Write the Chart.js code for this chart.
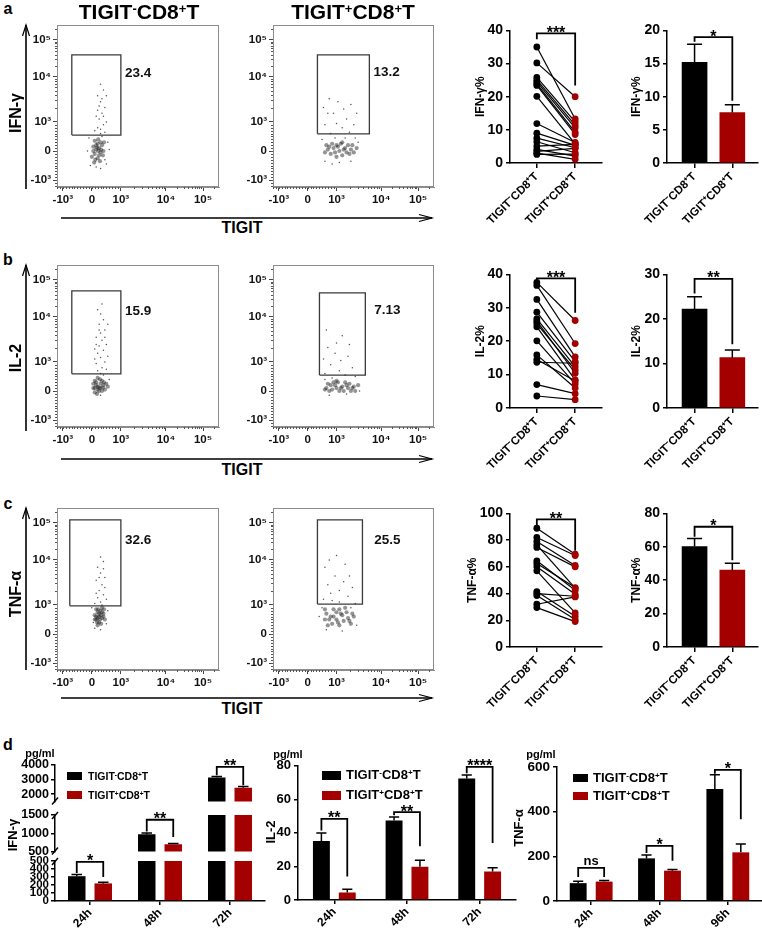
<!DOCTYPE html>
<html>
<head>
<meta charset="utf-8">
<script src="https://cdn.jsdelivr.net/npm/chart.js@4.4.0/dist/chart.umd.min.js"></script>
<style>
  body { margin: 0; width: 762px; height: 932px; position: relative; overflow: hidden; background: #fff;
         font-family: 'Liberation Sans', Arial, sans-serif; font-weight: bold; color: #000; }
  canvas { position: absolute; }
  .t { position: absolute; white-space: nowrap; line-height: 1; transform: translate(-50%, -50%); }
  .l { position: absolute; white-space: nowrap; line-height: 1; transform: translateY(-50%); }
  sup { font-size: 62%; vertical-align: 0; position: relative; top: -0.5em; }
</style>
</head>
<body>
<svg id="arrows" width="762" height="932" style="position:absolute;left:0;top:0"></svg>
<script>
// ---- categories / tick labels ----
const groupLabels = ['TIGIT⁻CD8⁺T', 'TIGIT⁺CD8⁺T'];
const timeLabels = ['24h', '48h', '72h'];
const tnfTimeLabels = ['24h', '48h', '96h'];
const flowTickPos = [-1, 0, 1, 2.55, 3.83];          // biexponential display units
const flowTickLabels = ['-10³', '0', '10³', '10⁴', '10⁵'];

// ---- a-c: paired donors (%) ----
const ifnNeg = [35, 30.2, 25.8, 25.1, 24.5, 23.9, 23.4, 20.1, 11.9, 9, 7.5, 6.4, 5.1, 4.1, 3.5, 3, 2.6];
const ifnPos = [13.3, 20, 12.4, 11.4, 10.6, 9.3, 8.6, 5.8, 6.2, 5.3, 4.6, 3.1, 5.6, 2.1, 4.4, 1.1, 2.7];
const il2Neg = [37.6, 36.7, 32.5, 28.7, 26.7, 26, 25.2, 24.3, 20.1, 15.9, 14.5, 13.7, 7, 3.6];
const il2Pos = [26.2, 19.3, 15.3, 13.9, 12.4, 10.4, 11.4, 8.4, 7.2, 6, 8.1, 13.4, 4.3, 2.5];
const tnfNeg = [88.9, 82, 79, 76.5, 74.5, 64.5, 62.5, 60, 57, 41.5, 40, 38.5, 32, 29.5];
const tnfPos = [69.5, 68.5, 61, 44, 60, 42.5, 44.5, 39.5, 25.5, 23, 38, 20.5, 37.5, 19];

// ---- a-c: mean and SEM ----
const ifnMean = [15.2, 7.6], ifnSem = [2.7, 1.2];
const il2Mean = [22.2, 11.3], il2Sem = [2.8, 1.7];
const tnfMean = [60.2, 46], tnfSem = [4.8, 4.2];

// significance brackets: [top, left leg end, right leg end, label]
const pairedBr = [[39.1, 37.3, 23.4, '***'], [38.8, 38.1, 28.5, '***'], [95.5, 91, 72, '**']];
const barBr = [[19, 18.3, 9.4, '*'], [29, 25.7, 14.3, '**'], [72, 66, 52, '*']];

// ---- d: secreted cytokines (pg/ml) ----
const dIfnNeg = [310, 970, 3150], dIfnPos = [220, 700, 2450];
const dIfnNegSem = [22, 35, 70], dIfnPosSem = [15, 18, 75];
const dIl2Neg = [35.2, 47.4, 72.5], dIl2Pos = [4.4, 19.8, 17];
const dIl2NegSem = [4.8, 2.1, 2.0], dIl2PosSem = [2.0, 3.9, 2.2];
const dTnfNeg = [80, 191, 502], dTnfPos = [87, 136, 218];
const dTnfNegSem = [9, 15, 64], dTnfPosSem = [5, 5, 37];
const dIfnBr = [[490, 350, 300, '*'], [1370, 1050, 895, '**'], [3870, 3300, 2620, '**']];
const dIl2Br = [[48.4, 41.5, 14, '**'], [52.4, 50.5, 32, '**'], [79.4, 75.5, 34, '****']];
const dTnfBr = [[148, 107, 107, 'ns'], [247, 215, 180, '*'], [588, 570, 366, '*']];
const ifnTopTicks = [2000, 3000, 4000], ifnMidTicks = [500, 1000, 1500], ifnLowTicks = [0, 100, 200, 300, 400, 500];

// ---- flow plots: gates [x1, y1, x2, y2] and gated % ----
const gates = [[-0.69, 0.55, 1.0, 3.31], [0.34, 0.59, 2.14, 3.31], [-0.69, 0.59, 1.0, 3.45],
               [0.41, 0.55, 2.0, 3.38], [-0.76, 0.97, 1.0, 3.93], [0.34, 1.03, 1.9, 3.93]];
const gatePct = ['23.4', '13.2', '15.9', '7.13', '32.6', '25.5'];

// flow events (dense core, sparse events)
const coreA1 = [[0.15,0.05],[0.25,0.1],[0.1,-0.1],[0.3,-0.05],[0.2,0.25],[0.05,0.15],[0.35,0.2],[0.2,-0.25],[0.4,0.0],[0.1,0.35],[0.28,-0.35],[0.0,-0.2],
                [0.22,0.0],[0.18,0.12],[0.3,0.3],[0.12,-0.3],[0.38,-0.15],[0.05,0.0],[0.25,-0.15],[0.32,0.05],[0.15,0.2],[0.42,0.3],[0.08,-0.4],[0.22,0.4]];
const sparseA1 = [[0.3,0.6],[0.2,0.8],[0.4,0.9],[0.25,1.1],[0.35,1.3],[0.15,1.2],[0.45,1.5],[0.3,1.7],[0.2,1.9],[0.4,2.1],[0.3,2.3],[0.5,1.0],[0.1,0.7],[0.45,0.65],[0.35,1.8],[0.25,1.55],[0.4,1.2],[0.3,0.75],[0.2,1.4],[0.5,1.9],[-0.05,-0.5],[0.5,-0.45],[0.55,0.3],[-0.1,0.45],[0.3,-0.6],[0.45,-0.3],[0.6,0.05],[-0.15,0.0],[0.15,-0.55],[0.35,0.5]];
const coreA2 = [[0.7,0.05],[0.9,0.1],[1.1,0.0],[1.3,0.1],[1.5,0.05],[0.8,-0.1],[1.2,-0.15],[1.0,0.2],[1.4,0.2],[1.6,-0.05],[0.65,0.2],[1.15,0.25],
                [0.75,0.15],[0.95,-0.05],[1.05,0.15],[1.25,0.05],[1.35,-0.05],[1.55,0.2],[0.85,0.25],[1.45,-0.1],[0.6,-0.05],[1.7,0.1],[1.0,-0.2],[1.2,0.3]];
const sparseA2 = [[0.6,0.9],[0.9,1.3],[1.2,0.8],[1.5,1.6],[0.75,1.8],[1.35,1.1],[1.05,1.7],[0.8,0.6],[1.6,0.9],[1.25,1.45],[0.7,1.3],[1.45,0.65],[1.0,0.95],[0.55,1.5],[1.7,1.3],[0.95,0.45],[1.3,0.45],[0.6,-0.35],[1.1,-0.4],[1.5,-0.35],[1.75,0.3],[0.5,0.4],[0.85,-0.45],[1.65,0.45]];
const coreB1 = [[0.1,0.1],[0.2,0.15],[0.3,0.1],[0.15,0.3],[0.4,0.2],[0.25,0.0],[0.45,0.05],[0.05,0.25],[0.35,0.35],[0.55,0.15],[0.2,0.45],[0.1,-0.05],
                [0.2,0.05],[0.15,0.2],[0.3,0.25],[0.25,0.12],[0.35,0.0],[0.05,0.1],[0.42,0.3],[0.5,0.25],[0.1,0.35],[0.28,0.4],[0.18,-0.1],[0.38,0.12]];
const sparseB1 = [[0.2,0.7],[0.35,0.8],[0.15,0.95],[0.45,1.0],[0.3,1.15],[0.2,1.3],[0.4,1.4],[0.25,1.55],[0.5,1.6],[0.35,1.75],[0.15,1.85],[0.3,2.0],[0.45,2.1],[0.25,2.3],[0.4,2.45],[0.3,2.65],[0.2,2.8],[0.35,3.0],[0.55,1.2],[0.1,1.1],[0.5,0.75],[0.3,0.6],[0.15,1.6],[0.45,1.85],[0.25,2.1],[0.55,2.3],[0.4,0.55],[0.1,1.45],[0.6,0.4],[0.3,-0.15]];
const coreB2 = [[0.65,0.1],[0.8,0.2],[1.0,0.1],[1.2,0.15],[1.4,0.1],[1.6,0.15],[0.75,0.0],[0.9,0.3],[1.1,0.0],[1.3,0.3],[1.5,0.0],[1.75,0.2],
                [0.7,0.25],[0.85,0.05],[0.95,0.2],[1.05,0.3],[1.15,0.1],[1.25,0.0],[1.35,0.2],[1.45,0.25],[1.55,0.1],[1.65,0.0],[0.6,0.05],[1.0,0.35]];
const sparseB2 = [[0.6,0.6],[0.8,0.9],[1.1,0.7],[1.4,1.2],[0.7,1.5],[1.2,1.9],[0.95,1.3],[1.55,0.8],[0.65,2.1],[1.3,0.55],[1.0,1.65],[0.85,0.45],[1.65,0.5],[0.55,1.1],[1.45,1.6],[1.15,1.05],[0.75,-0.15],[1.35,-0.1],[1.8,0.0],[0.6,0.4]];
const coreC1 = [[0.15,0.5],[0.25,0.6],[0.35,0.55],[0.2,0.75],[0.3,0.8],[0.1,0.65],[0.4,0.7],[0.25,0.4],[0.35,0.9],[0.15,0.85],[0.45,0.5],[0.2,0.3],
                [0.2,0.55],[0.3,0.65],[0.25,0.7],[0.15,0.6],[0.35,0.75],[0.28,0.5],[0.1,0.5],[0.4,0.6],[0.22,0.85],[0.32,0.35],[0.18,0.4],[0.42,0.85]];
const sparseC1 = [[0.3,1.1],[0.2,1.25],[0.4,1.35],[0.25,1.5],[0.35,1.7],[0.15,1.85],[0.45,1.95],[0.3,2.1],[0.2,2.3],[0.4,2.5],[0.3,2.65],[0.1,1.05],[0.5,1.2],[0.35,1.0],[0.05,0.4],[0.5,0.35],[0.55,0.8],[0.3,0.15],[0.1,0.2],[0.45,1.6],[0.25,1.95],[0.4,2.25],[0.15,1.4],[0.0,0.9]];
const coreC2 = [[0.6,0.5],[0.8,0.6],[1.0,0.5],[1.2,0.65],[1.4,0.55],[1.6,0.6],[0.7,0.3],[0.9,0.85],[1.1,0.3],[1.3,0.9],[1.5,0.35],[1.0,0.75],
                [0.65,0.7],[0.75,0.5],[0.9,0.6],[1.05,0.4],[1.15,0.7],[1.25,0.45],[1.35,0.75],[1.45,0.45],[1.55,0.7],[0.85,0.35],[1.1,0.85],[0.6,0.85]];
const sparseC2 = [[0.55,1.2],[0.8,1.4],[1.1,1.1],[1.4,1.3],[0.7,1.7],[1.25,1.8],[0.95,2.0],[1.55,1.6],[0.6,2.3],[1.3,2.4],[1.0,2.7],[0.85,1.15],[1.65,1.05],[0.5,0.9],[1.7,0.3],[0.65,0.15],[1.2,0.1],[1.45,2.0],[0.75,2.55],[1.1,1.5],[1.5,0.9],[0.4,0.6]];

// ---------------------------------------------------------------
const RED = '#a50000';
Chart.defaults.font.family = "'Liberation Sans', Arial, sans-serif";
Chart.defaults.font.weight = 'bold';
Chart.defaults.color = '#000';
Chart.defaults.animation = false;
Chart.defaults.plugins.legend.display = false;
Chart.defaults.plugins.tooltip.enabled = false;

// draws frame, minor ticks, error bars, brackets and in-plot labels
const extras = {
  id: 'extras',
  afterDatasetsDraw(chart, args, o) {
    const ctx = chart.ctx, a = chart.chartArea, xs = chart.scales.x, ys = chart.scales.y;
    ctx.save();
    if (o.frame) {
      ctx.strokeStyle = o.frame; ctx.lineWidth = 1;
      ctx.strokeRect(a.left + 0.5, a.top + 0.5, a.width - 1, a.height - 1);
    }
    if (o.minor) {
      const [, , d3, d4, d5] = flowTickPos;
      const m = [];
      for (let v = -1.2; v < 0.95; v += 0.1) m.push(v);
      for (let k = 2; k < 10; k++) {
        m.push(d3 + Math.log10(k) * (d4 - d3), d4 + Math.log10(k) * (d5 - d4), d5 + Math.log10(k) * (d5 - d4));
      }
      ctx.strokeStyle = '#555'; ctx.lineWidth = 1; ctx.beginPath();
      m.forEach(v => {
        if (v >= xs.min && v <= xs.max) {
          const px = Math.round(xs.getPixelForValue(v)) + 0.5;
          ctx.moveTo(px, a.bottom); ctx.lineTo(px, a.bottom + 2);
        }
        if (v >= ys.min && v <= ys.max) {
          const py = Math.round(ys.getPixelForValue(v)) + 0.5;
          ctx.moveTo(a.left, py); ctx.lineTo(a.left - 2, py);
        }
      });
      ctx.stroke();
    }
    ctx.strokeStyle = '#000'; ctx.lineWidth = 1.5;
    if (o.breakTop) { ctx.beginPath(); ctx.moveTo(a.left - 3, a.top + 4); ctx.lineTo(a.left + 3, a.top - 3); ctx.stroke(); }
    if (o.breakBottom) { ctx.beginPath(); ctx.moveTo(a.left - 3, a.bottom + 3); ctx.lineTo(a.left + 3, a.bottom - 4); ctx.stroke(); }

    ctx.save();
    ctx.beginPath(); ctx.rect(a.left, a.top - 2, a.width, a.height + 2); ctx.clip();
    (o.errs || []).forEach((err, di) => {
      const meta = chart.getDatasetMeta(di);
      meta.data.forEach((bar, j) => {
        const raw = chart.data.datasets[di].data[j];
        const v = typeof raw === 'object' ? raw.y : raw;
        const yTop = ys.getPixelForValue(v + err[j]);
        const cw = bar.width * 0.6;
        ctx.strokeStyle = '#000'; ctx.lineWidth = 1.5;
        ctx.beginPath();
        ctx.moveTo(bar.x, ys.getPixelForValue(v)); ctx.lineTo(bar.x, yTop);
        ctx.moveTo(bar.x - cw / 2, yTop); ctx.lineTo(bar.x + cw / 2, yTop);
        ctx.stroke();
      });
    });
    const shown = (o.brackets || []).filter(b => b.top >= ys.min && b.top <= ys.max);
    shown.forEach(b => {
      const x0 = chart.getDatasetMeta(b.a[0]).data[b.a[1]].x;
      const x1 = chart.getDatasetMeta(b.b[0]).data[b.b[1]].x;
      const yt = ys.getPixelForValue(b.top);
      ctx.strokeStyle = '#000'; ctx.lineWidth = 1.8;
      ctx.beginPath();
      ctx.moveTo(x0, ys.getPixelForValue(b.l)); ctx.lineTo(x0, yt); ctx.lineTo(x1, yt); ctx.lineTo(x1, ys.getPixelForValue(b.r));
      ctx.stroke();
    });
    ctx.restore();
    shown.forEach(b => {
      const x0 = chart.getDatasetMeta(b.a[0]).data[b.a[1]].x;
      const x1 = chart.getDatasetMeta(b.b[0]).data[b.b[1]].x;
      const yt = ys.getPixelForValue(b.top);
      ctx.fillStyle = '#000'; ctx.textAlign = 'center'; ctx.textBaseline = 'alphabetic';
      if (b.t === 'ns') { ctx.font = "bold 13px 'Liberation Sans', Arial"; ctx.fillText(b.t, (x0 + x1) / 2, yt - 3); }
      else { ctx.font = "bold 16px 'Liberation Sans', Arial"; ctx.fillText(b.t, (x0 + x1) / 2, yt + 4.5); }
    });
    (o.labels || []).forEach(l => {
      ctx.fillStyle = '#111'; ctx.font = "bold 13.5px 'Liberation Sans', Arial";
      ctx.textAlign = 'left'; ctx.textBaseline = 'middle';
      ctx.fillText(l.t, xs.getPixelForValue(l.x), ys.getPixelForValue(l.y));
    });
    ctx.restore();
  }
};
Chart.register(extras);

function place(area, yW, xH, cfg, pad) {
  const p = Object.assign({ t: 10, r: 6, b: 0 }, pad || {});
  const cv = document.createElement('canvas');
  const w = yW + area.w + p.r, h = p.t + area.h + xH + p.b;
  cv.width = w; cv.height = h;
  cv.style.left = (area.x - yW) + 'px'; cv.style.top = (area.y - p.t) + 'px';
  cv.style.width = w + 'px'; cv.style.height = h + 'px';
  document.body.appendChild(cv);
  cfg.options.responsive = false;
  cfg.options.layout = { padding: { left: 0, top: p.t, right: p.r, bottom: p.b } };
  cfg.options.scales.y.afterFit = s => { s.width = yW; };
  cfg.options.scales.x.afterFit = s => { s.height = xH; };
  return new Chart(cv, cfg);
}

const pts = arr => arr.map(([x, y]) => ({ x, y }));
const mkBr = (r, a, b) => ({ top: r[0], l: r[1], r: r[2], t: r[3], a, b });

// ---- flow cytometry plots ----
function flowAxis(min, max) {
  return {
    type: 'linear', min, max,
    afterBuildTicks: s => { s.ticks = flowTickPos.map(v => ({ value: v })); },
    ticks: { callback: (v, i) => flowTickLabels[i], font: { size: 11.5, weight: 'bold' }, color: '#111',
             padding: 2, maxRotation: 0, minRotation: 0, autoSkip: false },
    grid: { drawOnChartArea: false, tickLength: 4, color: '#444' },
    border: { color: '#8c8c8c' }
  };
}
function flowChart(area, core, sparse, gate, label) {
  const [x1, y1, x2, y2] = gate;
  return place(area, 38, 22, {
    type: 'scatter',
    data: { datasets: [
      { data: pts(core), pointRadius: 2.1, pointBackgroundColor: 'rgba(0,0,0,0.42)', pointBorderWidth: 0, borderColor: 'transparent' },
      { data: pts(sparse), pointRadius: 0.75, pointBackgroundColor: 'rgba(40,40,40,0.8)', pointBorderWidth: 0, borderColor: 'transparent' },
      { data: pts([[x1, y1], [x2, y1], [x2, y2], [x1, y2], [x1, y1]]), showLine: true, pointRadius: 0,
        borderColor: '#3a3a3a', borderWidth: 1.3 }
    ] },
    options: {
      scales: { x: flowAxis(-1.2, 4.38), y: flowAxis(-1.24, 4.34) },
      plugins: { extras: { frame: '#8c8c8c', minor: true, labels: [label] } }
    }
  });
}

// ---- value axis / group axis shared by the small plots ----
function valAxis(max, step, title, size) {
  return {
    min: 0, max,
    ticks: { stepSize: step, callback: v => String(v), font: { size: size || 14, weight: 'bold' }, padding: 3, color: '#000' },
    grid: { drawOnChartArea: false, tickLength: 4, color: '#000', lineWidth: 1.5 },
    border: { color: '#000', width: 1.5 },
    title: { display: !!title, text: title || '', font: { size: 12, weight: 'bold' }, padding: 0 }
  };
}
function groupAxis(min, max) {
  return {
    type: 'linear', min, max, offset: false,
    afterBuildTicks: s => { s.ticks = [{ value: 0 }, { value: 1 }]; },
    ticks: { callback: (v, i) => groupLabels[i], minRotation: 45, maxRotation: 45,
             font: { size: 11.5, weight: 'bold' }, padding: 2, autoSkip: false },
    grid: { offset: false, drawOnChartArea: false, tickLength: 5, color: '#000', lineWidth: 1.5 },
    border: { color: '#000', width: 1.5 }
  };
}

function pairedChart(area, yW, neg, pos, max, step, title, br) {
  const datasets = neg.map((v, i) => ({
    data: [{ x: 0, y: v }, { x: 1, y: pos[i] }], showLine: true, borderColor: '#000', borderWidth: 1.2,
    pointRadius: 3.4, pointBackgroundColor: ['#000', RED], pointBorderWidth: 0
  }));
  return place(area, yW, 85, {
    type: 'scatter', data: { datasets },
    options: { scales: { x: groupAxis(-0.7, 1.7), y: valAxis(max, step, title) },
               plugins: { extras: { brackets: [mkBr(br, [0, 0], [0, 1])] } } }
  });
}

function barChart(area, mean, sem, max, step, title, br) {
  return place(area, 38, 85, {
    type: 'bar',
    data: { datasets: [{ data: mean.map((y, i) => ({ x: i, y })), backgroundColor: ['#000', RED], barThickness: 25 }] },
    options: { scales: { x: groupAxis(-0.73, 1.68), y: valAxis(max, step, title) },
               plugins: { extras: { errs: [sem], brackets: [mkBr(br, [0, 0], [0, 1])] } } }
  }, { r: 4 });
}

function dChart(area, yW, xH, labels, series, sems, y, showX, brs, pct, extra, pad) {
  return place(area, yW, xH, {
    type: 'bar',
    data: { labels, datasets: series.map((d, i) => ({
      label: groupLabels[i], data: d, backgroundColor: i ? RED : '#000',
      categoryPercentage: pct[0], barPercentage: pct[1]
    })) },
    options: {
      scales: {
        x: { display: showX, offset: true,
             grid: { offset: false, drawOnChartArea: false, tickLength: 4, color: '#000', lineWidth: 1.5 },
             border: { color: '#000', width: 1.5 },
             ticks: { minRotation: 45, maxRotation: 45, font: { size: 12, weight: 'bold' }, padding: 1 } },
        y
      },
      plugins: { extras: Object.assign({ errs: sems, brackets: brs.map((r, i) => mkBr(r, [0, i], [1, i])) }, extra || {}) }
    }
  }, pad);
}
function segAxis(min, max, ticks, size) {
  return {
    min, max,
    afterBuildTicks: s => { s.ticks = ticks.map(v => ({ value: v })); },
    ticks: { callback: v => String(v), font: { size, weight: 'bold' }, padding: 2, autoSkip: false, color: '#000' },
    grid: { drawOnChartArea: false, tickLength: 4, color: '#000', lineWidth: 1.5 },
    border: { color: '#000', width: 1.5 }
  };
}

// ---- layout ----
const flowAreas = [
  { x: 57, y: 25, w: 162, h: 162 }, { x: 273, y: 25, w: 161, h: 162 },
  { x: 57, y: 265, w: 162, h: 162 }, { x: 273, y: 265, w: 161, h: 162 },
  { x: 57, y: 508, w: 162, h: 162 }, { x: 273, y: 508, w: 161, h: 162 }
];
const labelPos = [[1.14, 2.69], [2.28, 2.72], [1.14, 2.76], [2.31, 2.79], [1.14, 3.24], [2.31, 3.24]];
const clouds = [[coreA1, sparseA1], [coreA2, sparseA2], [coreB1, sparseB1], [coreB2, sparseB2], [coreC1, sparseC1], [coreC2, sparseC2]];
clouds.forEach(([c, s], i) => flowChart(flowAreas[i], c, s, gates[i],
  { x: labelPos[i][0], y: labelPos[i][1], t: gatePct[i] }));

pairedChart({ x: 510, y: 29, w: 92, h: 134 }, 37, ifnNeg, ifnPos, 40, 10, 'IFN-γ%', pairedBr[0]);
pairedChart({ x: 510, y: 273, w: 92, h: 135 }, 37, il2Neg, il2Pos, 40, 10, 'IL-2%', pairedBr[1]);
pairedChart({ x: 510, y: 512, w: 92, h: 135 }, 45, tnfNeg, tnfPos, 100, 20, 'TNF-α%', pairedBr[2]);
barChart({ x: 667, y: 29, w: 91, h: 134 }, ifnMean, ifnSem, 20, 5, 'IFN-γ%', barBr[0]);
barChart({ x: 667, y: 273, w: 91, h: 135 }, il2Mean, il2Sem, 30, 10, 'IL-2%', barBr[1]);
barChart({ x: 667, y: 512, w: 91, h: 135 }, tnfMean, tnfSem, 80, 20, 'TNF-α%', barBr[2]);

// d: IFN-γ with broken axis (three segments)
const ifnSeries = [dIfnNeg, dIfnPos], ifnSems = [dIfnNegSem, dIfnPosSem];
const pctL = [0.757, 0.66];
dChart({ x: 55, y: 765, w: 210, h: 38 }, 40, 0, timeLabels, ifnSeries, ifnSems,
  segAxis(1500, 4000, ifnTopTicks, 12.5), false, dIfnBr, pctL, { breakBottom: true }, { b: 8 });
dChart({ x: 55, y: 815, w: 210, h: 38 }, 40, 0, timeLabels, ifnSeries, ifnSems,
  segAxis(500, 1500, ifnMidTicks, 12.5), false, dIfnBr, pctL, { breakTop: true, breakBottom: true }, { b: 8 });
dChart({ x: 55, y: 861, w: 210, h: 40 }, 40, 30, timeLabels, ifnSeries, ifnSems,
  segAxis(0, 500, ifnLowTicks, 11.5), true, dIfnBr, pctL, { breakTop: true });
// d: IL-2, TNF-α
dChart({ x: 298, y: 765, w: 218, h: 135 }, 40, 30, timeLabels, [dIl2Neg, dIl2Pos], [dIl2NegSem, dIl2PosSem],
  valAxis(80, 20, '', 13), true, dIl2Br, [0.712, 0.654]);
dChart({ x: 557, y: 766, w: 205, h: 135 }, 40, 30, tnfTimeLabels, [dTnfNeg, dTnfPos], [dTnfNegSem, dTnfPosSem],
  valAxis(600, 200, '', 13.5), true, dTnfBr, [0.76, 0.65], null, { r: 0 });

// ---- text ----
const supify = s => s.replace(/⁻/g, '<sup>-</sup>').replace(/⁺/g, '<sup>+</sup>');
function txt(html, x, y, size, rot) {
  const d = document.createElement('div');
  d.className = 't'; d.innerHTML = html;
  d.style.left = x + 'px'; d.style.top = y + 'px'; d.style.fontSize = size + 'px';
  if (rot) d.style.transform = `translate(-50%,-50%) rotate(${rot}deg)`;
  document.body.appendChild(d);
}
function legend(x, ys, w, h, tx, size) {
  groupLabels.forEach((lab, i) => {
    const sq = document.createElement('div');
    sq.style.cssText = `position:absolute;left:${x}px;top:${ys[i] - h / 2}px;width:${w}px;height:${h}px;background:${i ? RED : '#000'}`;
    document.body.appendChild(sq);
    const d = document.createElement('div');
    d.className = 'l'; d.innerHTML = supify(lab);
    d.style.left = tx + 'px'; d.style.top = ys[i] + 'px'; d.style.fontSize = size + 'px';
    document.body.appendChild(d);
  });
}
[['a', 9], ['b', 260], ['c', 504], ['d', 745]].forEach(([l, y]) => txt(l, 8, y, 16));
txt(supify(groupLabels[0]), 139, 11, 21);
txt(supify(groupLabels[1]), 353, 11, 21);
[228, 470, 709].forEach(y => txt('TIGIT', 242, y, 16));
txt('IFN-γ', 16, 113, 16, -90);
txt('IL-2', 16, 358, 16, -90);
txt('TNF-α', 16, 594, 16, -90);
txt('pg/ml', 40, 753, 11);
txt('pg/ml', 288, 754, 11);
txt('pg/ml', 541, 754, 11);
txt('IFN-γ', 12, 835, 13, -90);
txt('IL-2', 270, 832, 13, -90);
txt('TNF-α', 518, 828, 13, -90);
legend(67, [776, 795], 15, 8, 88, 10.5);
legend(322, [775, 795], 19, 9, 346, 13);
legend(573, [778, 796], 15, 8, 593, 13);

// ---- axis arrows of the flow rows ----
const svg = document.getElementById('arrows');
let s = '';
[[25, 189, 218], [265, 431, 459], [508, 670, 698]].forEach(([top, bot, hy]) => {
  s += `<line x1="26" y1="${bot}" x2="26" y2="${top}" stroke="#000" stroke-width="1.6"/>`;
  s += `<polyline points="22.5,${top + 11} 26,${top} 29.5,${top + 11}" fill="none" stroke="#000" stroke-width="1.2"/>`;
  s += `<line x1="61" y1="${hy}" x2="432" y2="${hy}" stroke="#000" stroke-width="1.6"/>`;
  s += `<polyline points="419,${hy - 3.5} 432,${hy} 419,${hy + 3.5}" fill="none" stroke="#000" stroke-width="1.2"/>`;
});
svg.innerHTML = s;
</script>
</body>
</html>
